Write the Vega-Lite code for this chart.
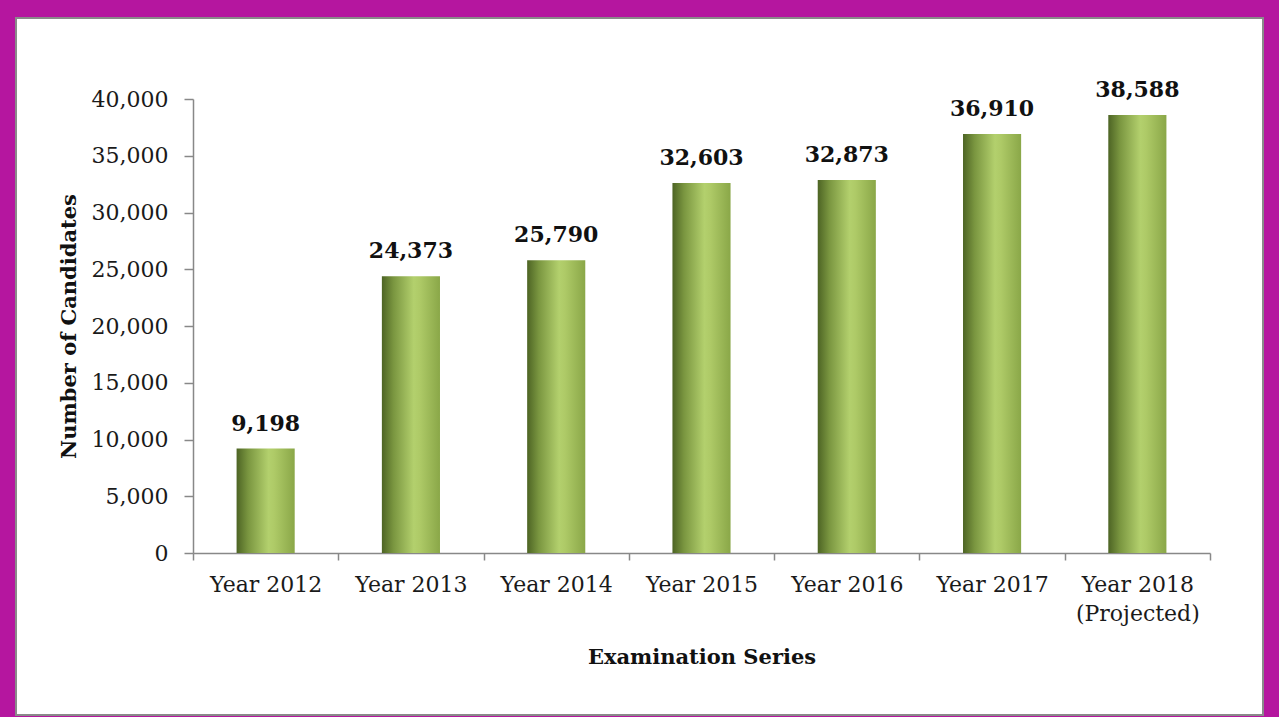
{
  "$schema": "https://vega.github.io/schema/vega-lite/v6.json",
  "width": 1247,
  "height": 697,
  "autosize": {"type": "none"},
  "padding": {"left": 16, "top": 18, "right": 16, "bottom": 2},
  "background": "#b5169f",
  "config": {
    "view": {"fill": "white", "stroke": "#8a8a8a", "strokeWidth": 2},
    "font": "DejaVu Serif"
  },
  "data": {
    "values": [
      {"series": "Year 2012", "candidates": 9198},
      {"series": "Year 2013", "candidates": 24373},
      {"series": "Year 2014", "candidates": 25790},
      {"series": "Year 2015", "candidates": 32603},
      {"series": "Year 2016", "candidates": 32873},
      {"series": "Year 2017", "candidates": 36910},
      {"series": "Year 2018 (Projected)", "candidates": 38588}
    ]
  },
  "encoding": {
    "x": {
      "field": "series",
      "type": "nominal",
      "sort": null,
      "scale": {"range": [177, 1194], "paddingInner": 0, "paddingOuter": 0},
      "axis": {
        "title": "Examination Series",
        "offset": -162,
        "tickBand": "extent",
        "labelAngle": 0,
        "labelFont": "DejaVu Serif",
        "labelFontSize": 22,
        "labelColor": "#1a1a1a",
        "labelPadding": 14,
        "labelLineHeight": 29,
        "labelExpr": "datum.value == 'Year 2018 (Projected)' ? ['Year 2018', '(Projected)'] : datum.value",
        "tickSize": 7,
        "tickColor": "#888888",
        "tickWidth": 1.5,
        "domainColor": "#888888",
        "domainWidth": 1.5,
        "titleFont": "DejaVu Serif",
        "titleFontWeight": "bold",
        "titleFontSize": 21,
        "titleColor": "#111111",
        "titlePadding": 22
      }
    },
    "y": {
      "field": "candidates",
      "type": "quantitative",
      "scale": {"domain": [0, 40000], "range": [535, 81], "nice": false, "zero": true},
      "axis": {
        "title": "Number of Candidates",
        "offset": -177,
        "values": [0, 5000, 10000, 15000, 20000, 25000, 30000, 35000, 40000],
        "format": ",.0f",
        "grid": false,
        "labelFont": "DejaVu Serif",
        "labelFontSize": 22,
        "labelColor": "#1a1a1a",
        "labelPadding": 16,
        "tickSize": 9,
        "tickColor": "#888888",
        "tickWidth": 1.5,
        "domainColor": "#888888",
        "domainWidth": 1.5,
        "titleFont": "DejaVu Serif",
        "titleFontWeight": "bold",
        "titleFontSize": 21,
        "titleColor": "#111111",
        "titlePadding": 12
      }
    }
  },
  "layer": [
    {
      "mark": {
        "type": "bar",
        "width": {"band": 0.4},
        "color": {
          "gradient": "linear",
          "x1": 0, "x2": 1, "y1": 0, "y2": 0,
          "stops": [
            {"offset": 0, "color": "#4d6424"},
            {"offset": 0.2, "color": "#7a9640"},
            {"offset": 0.55, "color": "#b3d06d"},
            {"offset": 0.65, "color": "#aeca67"},
            {"offset": 1, "color": "#8aa748"}
          ]
        }
      }
    },
    {
      "mark": {
        "type": "text",
        "baseline": "alphabetic",
        "dy": -18,
        "font": "DejaVu Serif",
        "fontWeight": "bold",
        "fontSize": 22,
        "color": "#111111"
      },
      "encoding": {
        "text": {"field": "candidates", "type": "quantitative", "format": ","}
      }
    }
  ]
}
